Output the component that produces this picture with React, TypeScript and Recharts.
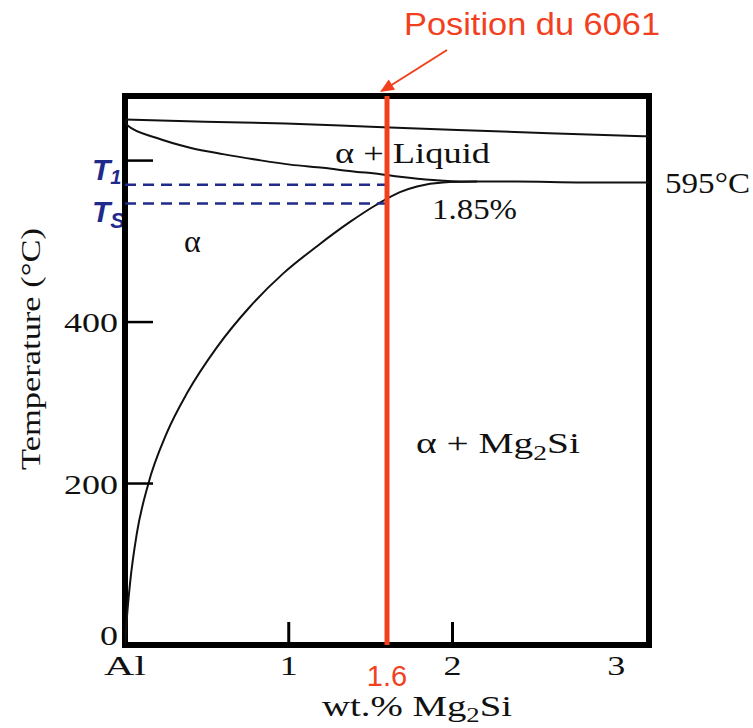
import { LineChart, Line, XAxis, YAxis, ReferenceArea, ReferenceLine } from "recharts";

// Al–Mg2Si pseudo-binary section (x = wt.% Mg2Si, t = °C)
const upperX = [0, 0.49, 0.98, 1.5, 2.03, 2.59, 3.2];
const upperT = [651, 648, 646, 642, 638, 634, 630];

const liquidusX = [0, 0.012, 0.195, 0.397, 0.598, 0.806, 1.008, 1.209, 1.417, 1.527, 1.679, 1.881, 2.089, 2.394, 2.797, 3.2];
const liquidusT = [651, 644, 628, 616, 608, 601, 595, 591, 586, 584, 580, 576, 574, 574, 573, 573];

const solvusX = [0, 0.012, 0.031, 0.073, 0.14, 0.256, 0.379, 0.562, 0.763, 0.965, 1.173, 1.374, 1.533, 1.679, 1.783, 1.942, 2.15];
const solvusT = [0, 35, 77, 139, 198, 263, 312, 369, 419, 460, 494, 524, 545, 561, 568, 573, 574];

const xTicks = [0, 1, 2, 3];
const xTickLabels = ["Al", "1", "2", "3"];
const yTicks = [0, 200, 400, 600];
const yTickLabels = ["0", "200", "400", ""];

const alloyX = 1.6; // 6061
const t1 = 570;
const tS = 547;

const X_MAX = 3.2;
const Y_MAX = 680;

const toPoints = (xs: number[], ts: number[]) => xs.map((x, i) => ({ x, t: ts[i] }));
const upper = toPoints(upperX, upperT);
const liquidus = toPoints(liquidusX, liquidusT);
const solvus = toPoints(solvusX, solvusT);

const SERIF = "Liberation Serif, Times New Roman, serif";
const SANS = "Liberation Sans, Arial, sans-serif";
const RED = "#f2401f";
const NAVY = "#1f2a8a";

const labelWidth = (s: string) => (s === "Al" ? 42 : s.length * 18);

function XTick({ x, y, payload }: any) {
  const v = payload.value;
  const label = xTickLabels[xTicks.indexOf(v)];
  return (
    <g>
      {v > 0 && v < 3 && <line x1={x} y1={y} x2={x} y2={y - 23} stroke="#000" strokeWidth={3} />}
      <text
        x={x}
        y={y + 30}
        textAnchor="middle"
        fontFamily={SERIF}
        fontSize={28}
        fill="#111"
        textLength={labelWidth(label)}
        lengthAdjust="spacingAndGlyphs"
      >
        {label}
      </text>
    </g>
  );
}

function YTick({ x, y, payload }: any) {
  const v = payload.value;
  const label = yTickLabels[yTicks.indexOf(v)];
  return (
    <g>
      {v > 0 && <line x1={x} y1={y} x2={x + 28} y2={y} stroke="#000" strokeWidth={2.5} />}
      {label && (
        <text
          x={x - 7}
          y={v === 0 ? y : y + 10}
          textAnchor="end"
          fontFamily={SERIF}
          fontSize={28}
          fill="#111"
          textLength={labelWidth(label)}
          lengthAdjust="spacingAndGlyphs"
        >
          {label}
        </text>
      )}
    </g>
  );
}

export default function App() {
  return (
    <div style={{ position: "absolute", left: 0, top: 0, width: 753, height: 728, background: "#fff" }}>
      <svg width={753} height={728} style={{ position: "absolute", left: 0, top: 0 }}>
        <text x={404} y={35} fontFamily={SANS} fontSize={32} fill={RED} textLength={256} lengthAdjust="spacingAndGlyphs">
          Position du 6061
        </text>
        <line x1={447} y1={50} x2={390} y2={86} stroke={RED} strokeWidth={2} />
        <polygon points="380,92 395,89.7 388.7,79.5" fill={RED} />

        <text x={92} y={180} fontFamily={SANS} fontSize={30} fontWeight="bold" fontStyle="italic" fill={NAVY}>
          T<tspan fontSize={20} dy={4}>1</tspan>
        </text>
        <text x={92} y={222} fontFamily={SANS} fontSize={30} fontWeight="bold" fontStyle="italic" fill={NAVY}>
          T<tspan fontSize={22} dy={6}>S</tspan>
        </text>

        <text x={335} y={163} fontFamily={SERIF} fontSize={30} fill="#111" textLength={155} lengthAdjust="spacingAndGlyphs">
          α + Liquid
        </text>
        <text x={665} y={193} fontFamily={SERIF} fontSize={30} fill="#111" textLength={85} lengthAdjust="spacingAndGlyphs">
          595°C
        </text>
        <text x={432} y={219} fontFamily={SERIF} fontSize={30} fill="#111" textLength={85} lengthAdjust="spacingAndGlyphs">
          1.85%
        </text>
        <text x={184} y={252} fontFamily={SERIF} fontSize={32} fill="#111">
          α
        </text>
        <text x={416} y={453} fontFamily={SERIF} fontSize={30} fill="#111" textLength={164} lengthAdjust="spacingAndGlyphs">
          α + Mg<tspan fontSize={21} dy={7}>2</tspan>
          <tspan dy={-7}>Si</tspan>
        </text>
        <text
          transform="translate(40,349) rotate(-90)"
          textAnchor="middle"
          fontFamily={SERIF}
          fontSize={28}
          fill="#111"
          textLength={242}
          lengthAdjust="spacingAndGlyphs"
        >
          Temperature (°C)
        </text>
        <text x={322} y={716} fontFamily={SERIF} fontSize={29} fill="#111" textLength={190} lengthAdjust="spacingAndGlyphs">
          wt.% Mg<tspan fontSize={20} dy={6}>2</tspan>
          <tspan dy={-6}>Si</tspan>
        </text>
      </svg>

      <div style={{ position: "absolute", left: 0, top: 0 }}>
        <LineChart width={753} height={728} margin={{ top: 96, right: 104, bottom: 0, left: 0 }}>
          <XAxis
            type="number"
            dataKey="x"
            domain={[0, X_MAX]}
            ticks={xTicks}
            height={83}
            tickSize={0}
            tickMargin={0}
            axisLine={false}
            tickLine={false}
            tick={(p: any) => <XTick {...p} />}
            allowDataOverflow
          />
          <YAxis
            type="number"
            dataKey="t"
            domain={[0, Y_MAX]}
            ticks={yTicks}
            width={125}
            tickSize={0}
            tickMargin={0}
            axisLine={false}
            tickLine={false}
            tick={(p: any) => <YTick {...p} />}
            allowDataOverflow
          />
          <ReferenceArea x1={0} x2={X_MAX} y1={0} y2={Y_MAX} fill="none" fillOpacity={0} stroke="#000" strokeWidth={6} />
          <Line data={upper} dataKey="t" type="monotone" stroke="#111" strokeWidth={2} dot={false} isAnimationActive={false} />
          <Line data={liquidus} dataKey="t" type="monotone" stroke="#111" strokeWidth={2} dot={false} isAnimationActive={false} />
          <Line data={solvus} dataKey="t" type="monotone" stroke="#111" strokeWidth={2} dot={false} isAnimationActive={false} />
          <ReferenceLine
            segment={[{ x: 0, y: t1 }, { x: alloyX, y: t1 }]}
            stroke={NAVY}
            strokeWidth={2.5}
            strokeDasharray="11 7"
          />
          <ReferenceLine
            segment={[{ x: 0, y: tS }, { x: alloyX, y: tS }]}
            stroke={NAVY}
            strokeWidth={2.5}
            strokeDasharray="11 7"
          />
          <ReferenceLine
            x={alloyX}
            stroke={RED}
            strokeWidth={5}
            label={{ value: "1.6", position: "bottom", offset: 20, fill: RED, fontSize: 29, fontFamily: SANS }}
          />
        </LineChart>
      </div>
    </div>
  );
}
